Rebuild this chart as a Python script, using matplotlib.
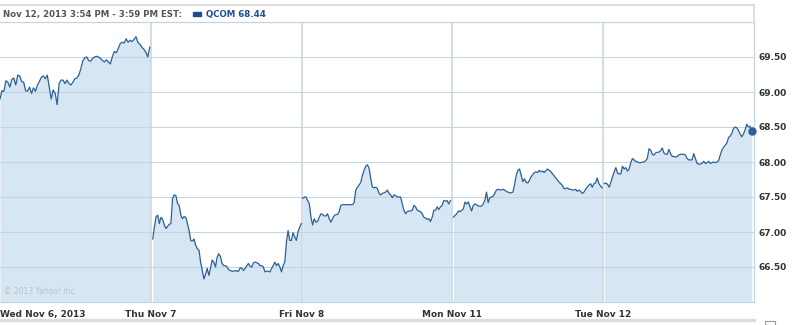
import matplotlib
matplotlib.use("Agg")
import matplotlib.pyplot as plt
from matplotlib.patches import Rectangle
from matplotlib.lines import Line2D
import numpy as np

# QCOM intraday prices (5 sessions)
day_labels = ["Wed Nov 6, 2013", "Thu Nov 7", "Fri Nov 8", "Mon Nov 11", "Tue Nov 12"]

nov6 = [68.90, 69.02, 69.01, 69.16, 69.14, 69.07, 69.18, 69.20, 69.10, 69.24,
        69.23, 69.15, 69.14, 69.02, 69.01, 69.07, 68.98, 69.06, 69.01, 69.10,
        69.15, 69.21, 69.23, 69.19, 69.24, 69.07, 68.90, 69.03, 68.98, 68.82,
        69.12, 69.17, 69.17, 69.12, 69.17, 69.12, 69.10, 69.14, 69.19, 69.20,
        69.24, 69.33, 69.44, 69.49, 69.50, 69.45, 69.44, 69.48, 69.50, 69.51,
        69.50, 69.48, 69.45, 69.43, 69.46, 69.43, 69.40, 69.50, 69.58, 69.56,
        69.62, 69.69, 69.71, 69.70, 69.76, 69.71, 69.74, 69.72, 69.75, 69.79,
        69.71, 69.68, 69.64, 69.61, 69.57, 69.50, 69.64]

nov7 = [66.90, 67.07, 67.22, 67.24, 67.12, 67.21, 67.18, 67.10, 67.05, 67.08,
        67.11, 67.12, 67.48, 67.53, 67.52, 67.41, 67.38, 67.24, 67.19, 67.22,
        67.21, 67.12, 67.02, 66.88, 66.87, 66.90, 66.81, 66.76, 66.74, 66.57,
        66.45, 66.33, 66.40, 66.48, 66.38, 66.48, 66.60, 66.57, 66.50, 66.64,
        66.69, 66.65, 66.55, 66.52, 66.52, 66.50, 66.46, 66.45, 66.44, 66.44,
        66.45, 66.44, 66.44, 66.49, 66.48, 66.45, 66.48, 66.52, 66.55, 66.51,
        66.50, 66.56, 66.57, 66.56, 66.55, 66.52, 66.52, 66.50, 66.43, 66.44,
        66.44, 66.43, 66.48, 66.52, 66.57, 66.52, 66.55, 66.50, 66.43, 66.52,
        66.57, 66.86, 67.02, 66.88, 66.88, 66.99, 66.93, 66.88, 67.00, 67.07,
        67.12]

nov8 = [67.48, 67.50, 67.50, 67.45, 67.40, 67.21, 67.10, 67.19, 67.14, 67.15,
        67.21, 67.26, 67.25, 67.23, 67.23, 67.26, 67.19, 67.14, 67.19, 67.23,
        67.25, 67.25, 67.29, 67.38, 67.39, 67.39, 67.39, 67.39, 67.39, 67.39,
        67.39, 67.42, 67.60, 67.64, 67.67, 67.71, 67.81, 67.88, 67.94, 67.96,
        67.91, 67.76, 67.64, 67.63, 67.64, 67.62, 67.55, 67.53, 67.55, 67.56,
        67.57, 67.60, 67.55, 67.53, 67.49, 67.53, 67.52, 67.50, 67.50, 67.50,
        67.40, 67.31, 67.26, 67.29, 67.30, 67.30, 67.31, 67.38, 67.36, 67.31,
        67.30, 67.29, 67.26, 67.21, 67.20, 67.18, 67.19, 67.15, 67.21, 67.31,
        67.31, 67.36, 67.32, 67.36, 67.38, 67.45, 67.44, 67.45, 67.40, 67.45]

nov11 = [67.21, 67.24, 67.26, 67.30, 67.29, 67.31, 67.33, 67.43, 67.40, 67.43,
         67.36, 67.30, 67.38, 67.40, 67.39, 67.37, 67.37, 67.37, 67.40, 67.45,
         67.57, 67.42, 67.49, 67.50, 67.51, 67.55, 67.60, 67.61, 67.60, 67.60,
         67.61, 67.60, 67.58, 67.57, 67.56, 67.56, 67.57, 67.68, 67.81, 67.88,
         67.90, 67.81, 67.72, 67.76, 67.71, 67.70, 67.74, 67.79, 67.82, 67.85,
         67.86, 67.85, 67.88, 67.86, 67.87, 67.85, 67.88, 67.90, 67.88, 67.86,
         67.83, 67.80, 67.77, 67.74, 67.71, 67.69, 67.66, 67.62, 67.62, 67.63,
         67.61, 67.61, 67.60, 67.60, 67.61, 67.58, 67.60, 67.58, 67.55, 67.57,
         67.61, 67.64, 67.67, 67.69, 67.64, 67.69, 67.70, 67.77, 67.69, 67.66,
         67.63]

nov12 = [67.69, 67.70, 67.68, 67.64, 67.71, 67.79, 67.86, 67.92, 67.84, 67.83,
         67.83, 67.94, 67.90, 67.92, 67.87, 67.90, 67.99, 68.05, 68.03, 68.01,
         68.00, 67.99, 67.99, 68.00, 68.00, 68.02, 68.05, 68.19, 68.17, 68.11,
         68.10, 68.13, 68.14, 68.14, 68.16, 68.20, 68.13, 68.11, 68.11, 68.18,
         68.12, 68.08, 68.08, 68.07, 68.08, 68.10, 68.11, 68.11, 68.11, 68.10,
         68.05, 68.03, 68.03, 68.03, 68.12, 68.05, 67.98, 67.97, 67.97, 67.98,
         68.01, 67.98, 67.99, 68.01, 67.98, 67.99, 68.00, 67.99, 68.00, 68.02,
         68.10, 68.17, 68.21, 68.24, 68.27, 68.35, 68.37, 68.41, 68.48, 68.50,
         68.49, 68.45, 68.40, 68.36, 68.40, 68.46, 68.54, 68.50, 68.51, 68.44]

sessions = [nov6, nov7, nov8, nov11, nov12]
# fraction of each day's slot covered by trading (start, end)
spans = [(0.0, 0.993), (0.013, 0.998), (0.007, 0.987), (0.007, 0.993), (0.007, 0.985)]

y_ticks = [66.5, 67.0, 67.5, 68.0, 68.5, 69.0, 69.5]
header = "Nov 12, 2013 3:54 PM - 3:59 PM EST:"
legend_label = "QCOM 68.44"

W, H = 805, 325
line_c = "#2b5f98"
fill_c = "#d6e6f2"
grid_c = "#c6d4df"
text_c = "#333333"

fig = plt.figure(figsize=(W / 100, H / 100), dpi=100)
ax = fig.add_axes([0, 23 / H, 754 / W, 280 / H])
ax.set_xlim(0, 5)
ax.set_ylim(66.0, 70.0)

for i, vals in enumerate(sessions):
    xs = i + np.linspace(spans[i][0], spans[i][1], len(vals))
    ax.fill_between(xs, 66.0, vals, color=fill_c, lw=0, zorder=1)
    ax.plot(xs, vals, color=line_c, lw=0.9, zorder=3)
last = sessions[-1]
ax.plot([4 + spans[-1][1]], [last[-1]], "o", color=line_c, ms=5, zorder=4, clip_on=False)

for y in y_ticks:
    ax.axhline(y, color=grid_c, lw=0.75, zorder=2)
for d in range(1, 5):
    ax.axvline(d, color=grid_c, lw=1.1, zorder=2)

ax.set_yticks(y_ticks)
ax.set_xticks([])
ax.yaxis.tick_right()
ax.tick_params(axis="y", length=0, pad=3, labelsize=6.5, labelcolor=text_c)
ax.set_yticklabels([f"{v:.2f}" for v in y_ticks], fontweight="bold")
ax.spines["left"].set_visible(False)
for s in ["bottom", "right", "top"]:
    ax.spines[s].set_color(grid_c)
    ax.spines[s].set_linewidth(0.9)

# day labels under the axis
for i, lab in enumerate(day_labels):
    ax.text(i + (0.003 if i == 0 else 0), -0.03, lab, transform=ax.get_xaxis_transform(),
            ha="left" if i == 0 else "center", va="top", fontsize=6.5,
            fontweight="bold", color=text_c)

ax.text(0.005, 0.02, "\u00a9 2013 Yahoo! Inc.", transform=ax.transAxes,
        fontsize=5.5, color="#b8c4cc", ha="left", va="bottom")

# header box and legend
fig.add_artist(Line2D([0, 754 / W], [1 - 5 / H, 1 - 5 / H], color="#d8d8d8", lw=1.2))
fig.add_artist(Line2D([754 / W, 754 / W], [1 - 5 / H, 1 - 23 / H], color="#d8d8d8", lw=1.2))
fig.text(3 / W, 1 - 14 / H, header, fontsize=6.2, fontweight="bold", color="#555555",
         ha="left", va="center")
fig.add_artist(Rectangle((193 / W, 1 - 16 / H), 8 / W, 4 / H, color="#1f4e8c",
                         transform=fig.transFigure))
fig.text(206 / W, 1 - 14 / H, legend_label, fontsize=6.2, fontweight="bold",
         color="#1f4e8c", ha="left", va="center")

# bottom rule
fig.add_artist(Line2D([0, 754 / W], [1 - 320 / H, 1 - 320 / H], color="#dddddd", lw=2.5))
fig.add_artist(Rectangle((765 / W, 1 - 325 / H), 10 / W, 4 / H, fill=False,
                         ec="#999999", lw=0.8, transform=fig.transFigure))

fig.savefig("out.png", dpi=100)
